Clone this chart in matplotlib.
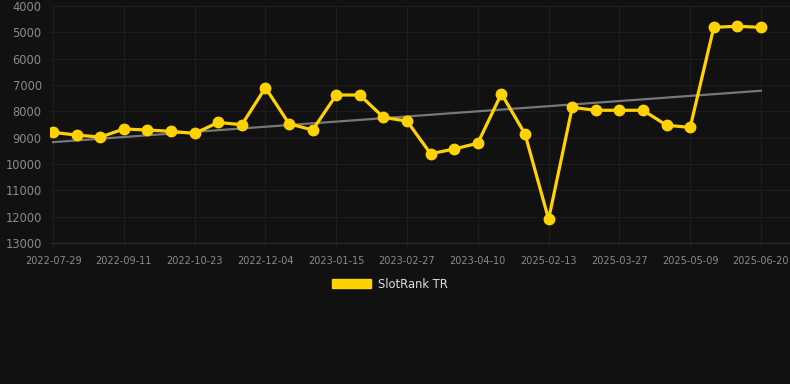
import numpy as np
import matplotlib
matplotlib.use("Agg")
import matplotlib.pyplot as plt

dates = ["2022-07-29", "2022-08-12", "2022-08-26", "2022-09-11", "2022-09-25",
         "2022-10-09", "2022-10-23", "2022-11-06", "2022-11-20", "2022-12-04",
         "2022-12-18", "2023-01-01", "2023-01-15", "2023-01-29", "2023-02-12",
         "2023-02-27", "2023-03-13", "2023-03-27", "2023-04-10", "2023-04-24",
         "2025-01-30", "2025-02-13", "2025-02-27", "2025-03-13", "2025-03-27",
         "2025-04-10", "2025-04-24", "2025-05-09", "2025-05-23", "2025-06-06",
         "2025-06-20"]
rank = [8800, 8900, 8980, 8670, 8710, 8760, 8840, 8420, 8510, 7100,
        8470, 8710, 7380, 7380, 8230, 8370, 9610, 9430, 9210, 7330,
        8860, 12100, 7850, 7960, 7960, 7960, 8530, 8610, 4810, 4770,
        4810]

BG = "#111111"
GOLD = "#FFD200"
TXT = "#8a8a8a"

x = np.arange(len(rank))
slope, icpt = np.polyfit(x, rank, 1)

fig = plt.figure(figsize=(7.9, 3.84), dpi=100, facecolor=BG)
ax = fig.add_axes([50 / 790, 1 - 243 / 384, 740 / 790, 237 / 384])
ax.set_facecolor(BG)

ax.plot(x, slope * x + icpt, color="#777777", lw=1.6, zorder=2)
ax.plot(x, rank, color=GOLD, lw=2.3, marker="o", ms=7.5, zorder=3)

ax.set_ylim(13000, 4000)
ax.set_yticks(np.arange(4000, 13001, 1000))
ax.set_xlim(-0.13, 31.23)
ax.set_xticks(x[::3])
ax.set_xticklabels(dates[::3])

ax.grid(True, color="#1d1d1d", lw=0.8)
for s in ax.spines.values():
    s.set_visible(False)
ax.spines["bottom"].set_visible(True)
ax.spines["bottom"].set_color("#2b2b2b")
ax.tick_params(axis="y", length=0, labelsize=8.3, colors=TXT, pad=6)
ax.tick_params(axis="x", length=4, color="#1d1d1d", labelsize=7, colors=TXT, pad=5)

# legend
h = plt.Rectangle((0, 0), 1, 1, color=GOLD)
fig.legend([h], ["SlotRank TR"], loc="center", bbox_to_anchor=(390 / 790, 1 - 284 / 384),
           frameon=False, fontsize=8.3, labelcolor="#dddddd",
           handlelength=3.4, handleheight=0.9, handletextpad=0.6)

fig.savefig("out.png", dpi=100, facecolor=BG)
